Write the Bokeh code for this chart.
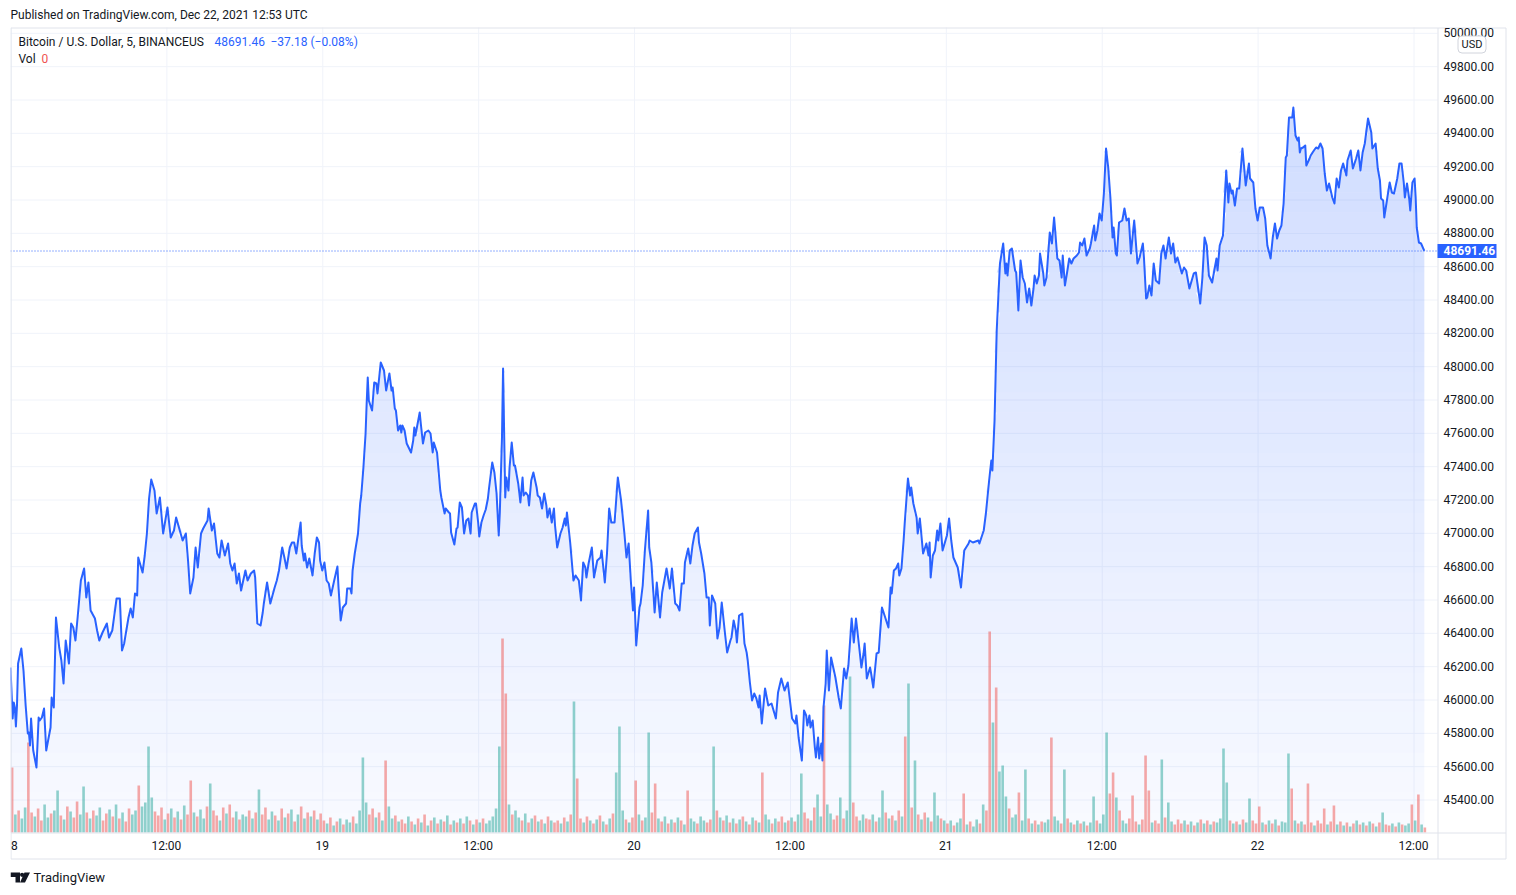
import numpy as np
from bokeh.plotting import figure
from bokeh.models import Range1d, Spacer
from bokeh.core.properties import value
from bokeh.layouts import row
from bokeh.embed import file_html
from bokeh.resources import INLINE

# ---------------- data ----------------
# 5-minute bar number counted from Dec 18 00:00 UTC
bar_index = [
    0, 2, 3, 4, 5, 6, 7, 10, 12, 14,
    16, 17, 18, 19, 21, 24, 26, 27, 29, 31,
    33, 37, 38, 40, 42, 45, 47, 49, 51, 54,
    56, 58, 60, 62, 65, 68, 70, 72, 74, 78,
    80, 82, 85, 89, 91, 94, 98, 101, 103, 105,
    109, 111, 113, 115, 117, 118, 122, 124, 126, 128,
    130, 133, 135, 138, 141, 145, 148, 151, 153, 159,
    162, 164, 166, 169, 171, 173, 176, 178, 182, 183,
    186, 188, 191, 193, 195, 198, 201, 203, 205, 207,
    209, 211, 213, 217, 219, 222, 225, 226, 228, 231,
    233, 234, 237, 240, 244, 246, 248, 251, 253, 255,
    258, 260, 262, 264, 268, 269, 271, 272, 274, 276,
    279, 281, 283, 285, 286, 288, 290, 292, 294, 296,
    299, 302, 303, 305, 307, 310, 311, 314, 315, 316,
    318, 321, 323, 324, 326, 328, 329, 330, 331, 334,
    336, 338, 339, 340, 342, 345, 347, 350, 352, 353,
    355, 356, 358, 360, 361, 362, 364, 366, 370, 372,
    373, 374, 378, 379, 381, 383, 386, 388, 390, 391,
    394, 397, 398, 401, 402, 405, 406, 407, 410, 412,
    413, 415, 417, 419, 421, 423, 425, 426, 429, 430,
    432, 433, 435, 437, 439, 441, 442, 445, 447, 449,
    451, 452, 454, 455, 457, 458, 460, 461, 463, 465,
    466, 469, 471, 473, 474, 476, 478, 479, 481, 483,
    486, 487, 489, 491, 493, 495, 496, 498, 500, 502,
    503, 505, 508, 510, 512, 513, 514, 517, 520, 522,
    525, 527, 529, 531, 532, 534, 537, 539, 542, 545,
    546, 549, 551, 553, 555, 558, 561, 564, 567, 569,
    571, 573, 575, 576, 578, 581, 582, 584, 586, 589,
    590, 592, 595, 597, 600, 602, 604, 606, 609, 611,
    614, 616, 618, 620, 622, 623, 626, 628, 630, 632,
    635, 636, 638, 641, 643, 645, 646, 648, 651, 653,
    655, 657, 660, 662, 665, 666, 668, 670, 671, 673,
    676, 678, 680, 681, 683, 685, 687, 689, 691, 692,
    694, 697, 700, 703, 707, 709, 712, 715, 718, 720,
    722, 725, 726, 728, 731, 733, 735, 736, 738, 739,
    741, 743, 744, 746, 747, 749, 750, 751, 753, 754,
    756, 758, 762, 765, 767, 770, 772, 774, 777, 779,
    781, 784, 786, 788, 789, 791, 794, 795, 797, 800,
    802, 805, 808, 811, 813, 814, 816, 818, 820, 821,
    823, 825, 826, 829, 831, 832, 834, 837, 838, 840,
    843, 846, 848, 849, 850, 852, 854, 856, 857, 859,
    861, 865, 867, 869, 871, 875, 878, 881, 885, 886,
    889, 894, 895, 899, 901, 904, 906, 907, 909, 911,
    914, 917, 919, 920, 921, 923, 925, 928, 929, 931,
    933, 935, 937, 939, 941, 943, 945, 946, 948, 950,
    951, 954, 955, 957, 960, 962, 964, 965, 967, 969,
    971, 972, 974, 976, 978, 980, 982, 985, 987, 988,
    990, 992, 994, 997, 998, 1001, 1002, 1004, 1006, 1008,
    1010, 1012, 1014, 1016, 1018, 1019, 1021, 1022, 1024, 1027,
    1029, 1031, 1033, 1035, 1038, 1041, 1043, 1046, 1047, 1049,
    1050, 1052, 1054, 1056, 1058, 1061, 1063, 1065, 1067, 1070,
    1072, 1074, 1076, 1078, 1082, 1084, 1086, 1089, 1093, 1095,
    1099, 1101, 1103, 1105, 1107, 1110, 1114, 1115, 1117, 1120,
    1123, 1125, 1126, 1128, 1129, 1131, 1133, 1135, 1138, 1139,
    1141, 1144, 1145, 1148, 1150, 1152, 1154, 1157, 1159, 1161,
    1164, 1166, 1168, 1170, 1172, 1174, 1176, 1178, 1179, 1181,
    1184, 1185, 1187, 1189, 1190, 1191, 1192, 1194, 1196, 1197,
    1200, 1201, 1204, 1206, 1208, 1210, 1212, 1214, 1216, 1218,
    1221, 1223, 1225, 1227, 1229, 1231, 1234, 1235, 1238, 1240,
    1243, 1245, 1247, 1249, 1251, 1254, 1257, 1258, 1261, 1263,
    1265, 1266, 1268, 1269, 1271, 1274, 1276, 1278, 1281, 1283,
    1285, 1287, 1288, 1290, 1292, 1293, 1295, 1297, 1298, 1299,
    1301, 1303, 1306,
]

close = [
    46192, 45886, 45982, 45952, 45838, 45964, 46216, 46306, 46174, 45964,
    45796, 45802, 45724, 45886, 45694, 45592, 45892, 45874, 45892, 45946,
    45694, 45832, 46012, 45952, 46492, 46312, 46234, 46096, 46354, 46216,
    46456, 46432, 46354, 46492, 46714, 46786, 46612, 46702, 46534, 46486,
    46414, 46354, 46402, 46456, 46372, 46414, 46606, 46606, 46294, 46336,
    46492, 46546, 46492, 46636, 46624, 46852, 46762, 46864, 46996, 47206,
    47320, 47254, 47116, 47212, 46996, 47152, 46972, 47014, 47092, 46954,
    46996, 46834, 46636, 46732, 46912, 46792, 46996, 47026, 47074, 47146,
    47014, 47056, 46876, 46852, 46954, 46864, 46936, 46816, 46774, 46816,
    46696, 46756, 46654, 46774, 46714, 46756, 46774, 46732, 46456, 46444,
    46522, 46576, 46702, 46576, 46672, 46714, 46774, 46912, 46852, 46786,
    46912, 46942, 46942, 46876, 47062, 46924, 46834, 46876, 46792, 46846,
    46744, 46876, 46972, 46942, 46834, 46774, 46822, 46714, 46696, 46624,
    46714, 46798, 46672, 46474, 46552, 46576, 46666, 46666, 46636, 46774,
    46876, 46996, 47176, 47224, 47392, 47596, 47776, 47932, 47794, 47734,
    47902, 47896, 47836, 47896, 48022, 47974, 47854, 47956, 47854, 47872,
    47746, 47734, 47614, 47644, 47602, 47644, 47614, 47536, 47482, 47554,
    47632, 47584, 47722, 47656, 47536, 47602, 47614, 47596, 47482, 47542,
    47482, 47254, 47212, 47116, 47146, 47122, 47116, 47002, 46930, 47026,
    47032, 47182, 47152, 46996, 47074, 47086, 46996, 47122, 47176, 47176,
    47062, 46978, 47062, 47104, 47140, 47206, 47266, 47422, 47362, 47236,
    46984, 47122, 47572, 47986, 47212, 47332, 47254, 47392, 47542, 47404,
    47404, 47296, 47182, 47332, 47224, 47242, 47224, 47164, 47314, 47362,
    47272, 47224, 47212, 47146, 47236, 47164, 47092, 47146, 47062, 47146,
    47044, 46912, 46996, 47032, 47086, 47044, 47122, 46942, 46714, 46744,
    46714, 46594, 46822, 46792, 46732, 46816, 46912, 46732, 46834, 46852,
    46894, 46702, 46876, 47146, 47062, 47062, 47332, 47194, 47002, 46852,
    46936, 46714, 46534, 46672, 46324, 46552, 46576, 46684, 46894, 47134,
    46912, 46822, 46522, 46702, 46492, 46642, 46714, 46786, 46666, 46786,
    46576, 46564, 46534, 46696, 46696, 46822, 46906, 46816, 46924, 46996,
    47032, 46942, 46876, 46756, 46612, 46612, 46444, 46624, 46576, 46366,
    46432, 46582, 46396, 46282, 46354, 46372, 46474, 46414, 46342, 46504,
    46516, 46336, 46282, 46234, 46102, 45994, 46036, 46006, 45952, 46024,
    45856, 46066, 45964, 45976, 45886, 46042, 46126, 46054, 46102, 45994,
    45886, 45856, 45904, 45772, 45634, 45934, 45904, 45844, 45904, 45832,
    45874, 45712, 45652, 45772, 45646, 45736, 45634, 45952, 46096, 46294,
    46054, 46252, 46132, 46012, 45946, 46186, 46126, 46204, 46486, 46342,
    46486, 46312, 46192, 46276, 46336, 46126, 46192, 46156, 46072, 46276,
    46282, 46552, 46492, 46432, 46672, 46636, 46774, 46786, 46816, 46744,
    46786, 46954, 47056, 47326, 47224, 47272, 47176, 47092, 46996, 47086,
    46876, 46936, 46864, 46942, 46732, 46864, 46894, 47014, 46954, 47056,
    46894, 46984, 47086, 46954, 46852, 46792, 46672, 46894, 46936, 46954,
    46942, 46954, 46936, 47014, 47116, 47314, 47434, 47374, 47674, 48214,
    48616, 48736, 48556, 48616, 48544, 48694, 48706, 48574, 48562, 48334,
    48634, 48532, 48496, 48382, 48466, 48364, 48466, 48544, 48496, 48544,
    48676, 48556, 48484, 48532, 48802, 48736, 48892, 48814, 48646, 48634,
    48532, 48664, 48484, 48562, 48646, 48616, 48646, 48664, 48682, 48742,
    48724, 48766, 48664, 48706, 48736, 48844, 48754, 48814, 48916, 48874,
    49036, 49306, 49192, 49012, 48772, 48832, 48676, 48664, 48862, 48874,
    48946, 48874, 48886, 48676, 48874, 48616, 48652, 48736, 48652, 48406,
    48412, 48484, 48424, 48616, 48514, 48496, 48676, 48724, 48646, 48772,
    48676, 48736, 48622, 48652, 48556, 48592, 48574, 48466, 48556, 48562,
    48376, 48532, 48772, 48724, 48544, 48502, 48646, 48574, 48724, 48784,
    49174, 48982, 49096, 49036, 49054, 48964, 49066, 49066, 49306, 49234,
    49084, 49216, 49126, 49102, 48946, 48874, 48952, 48952, 48886, 48724,
    48646, 48772, 48856, 48766, 48814, 48844, 48976, 49252, 49264, 49492,
    49492, 49552, 49384, 49354, 49372, 49282, 49306, 49312, 49324, 49204,
    49246, 49264, 49294, 49312, 49306, 49336, 49306, 49156, 49054, 49096,
    49012, 48976, 49126, 49072, 49174, 49216, 49144, 49234, 49294, 49186,
    49246, 49294, 49174, 49282, 49336, 49486, 49402, 49306, 49336, 49186,
    49114, 49006, 48994, 48892, 48976, 49102, 49042, 49036, 49126, 49216,
    49216, 49102, 49012, 49096, 49006, 48934, 49102, 49126, 49012, 48832,
    48742, 48736, 48691.46,
]

# volume, one column per 15 minutes (3 bars), arbitrary units
volume = [
    65, 18, 22, 14, 25, 90, 20, 16, 24, 12, 28, 15, 19, 22, 42, 17, 13, 26, 21, 15, 31, 18, 46, 20,
    14, 22, 17, 25, 12, 19, 23, 16, 28, 14, 20, 11, 24, 18, 22, 47, 26, 30, 86, 35, 21, 17, 25, 13,
    19, 24, 15, 21, 13, 27, 18, 52, 20, 16, 23, 14, 26, 49, 22, 17, 12, 25, 19, 28, 15, 21, 13, 18,
    16, 22, 14, 20, 43, 18, 25, 13, 21, 17, 12, 24, 15, 19, 23, 11, 18, 26, 14, 20, 16, 22, 13, 19,
    12, 9, 15, 7, 11, 14, 8, 13, 10, 16, 9, 22, 75, 30, 18, 24, 15, 20, 12, 72, 26, 14, 17, 11,
    13, 9, 16, 11, 8, 14, 10, 18, 7, 12, 15, 9, 13, 11, 17, 8, 12, 10, 14, 9, 16, 12, 8, 13,
    10, 14, 9, 12, 16, 24, 86, 194, 139, 28, 18, 22, 15, 12, 19, 10, 14, 17, 11, 13, 9, 16, 12, 10,
    12, 9, 15, 11, 18, 131, 54, 14, 10, 16, 12, 9, 13, 17, 11, 8, 14, 19, 60, 106, 22, 13, 10, 15,
    52, 18, 12, 15, 100, 20, 49, 14, 11, 16, 9, 13, 10, 15, 12, 8, 42, 14, 11, 9, 16, 12, 10, 13,
    86, 22, 15, 12, 17, 10, 14, 9, 13, 16, 11, 8, 15, 12, 10, 60, 18, 13, 9, 14, 11, 16, 10, 12,
    15, 11, 18, 59, 20, 14, 12, 25, 38, 16, 127, 28, 19, 13, 17, 35, 14, 22, 156, 30, 16, 12, 18, 14,
    13, 18, 11, 15, 42, 20, 14, 17, 12, 22, 16, 96, 149, 25, 72, 18, 13, 20, 15, 11, 40, 17, 14, 12,
    9, 12, 7, 10, 14, 39, 8, 11, 6, 13, 9, 28, 22, 201, 110, 145, 61, 67, 36, 24, 15, 18, 40, 12,
    63, 14, 9, 12, 8, 11, 10, 13, 95, 16, 12, 9, 63, 14, 10, 8, 12, 9, 11, 7, 10, 36, 12, 9,
    18, 100, 39, 60, 35, 22, 12, 9, 14, 37, 11, 8, 13, 77, 42, 10, 12, 9, 73, 15, 30, 11, 8, 13,
    9, 12, 8, 11, 7, 10, 13, 9, 12, 8, 11, 10, 14, 84, 50, 12, 9, 11, 8, 13, 10, 34, 12, 9,
    26, 10, 8, 12, 9, 13, 7, 11, 10, 79, 44, 12, 9, 11, 8, 49, 10, 7, 12, 9, 24, 8, 11, 27,
    8, 11, 7, 10, 6, 9, 12, 8, 10, 7, 11, 9, 6, 10, 20, 8, 7, 9, 6, 10, 8, 7, 9, 28,
    12, 38, 8, 5,
]
# u = up column (teal), d = down column (red)
vol_dir = (
    "duduuddudduuduudududduud"
    "uduuddudududduuduuuudddu"
    "dudududduduududdududdudu"
    "udududduudududududududud"
    "dudududuuduuuuddududuudu"
    "ddududududududududududud"
    "uduuuuudduduudududududud"
    "dudududdudududududuuudud"
    "duduuddudududududuuduud"
    "dududududududududuududdud"
    "uduudduduuduudduduudduud"
    "duduududududududududuudu"
    "duduududuududduduuuduudu"
    "udududuuduudududududuudu"
    "uudduduudddudddudduduudd"
    "dudududududuuuudududuudd"
    "dudududuuudududddudddudd"
    "ududududududududdududuud"
    "udud"
)

# time-axis ticks (hours after Dec 18 00:00); the first label is cut to "8" at the pane edge
day_ticks = [0, 12, 24, 36, 48, 60, 72, 84, 96, 108]
tick_labels = ["8", "12:00", "19", "12:00", "20", "12:00", "21", "12:00", "22", "12:00"]
price_ticks = list(range(45400, 50001, 200))
last_price = 48691.46
change_text = "\u221237.18 (\u22120.08%)"

# ---------------- geometry of the TradingView panel ----------------
BLUE = "#2962FF"
TXT = "#131722"
BORDER = "#E0E3EB"
GRID = "#F0F3FA"
FONT = value("Roboto")

PXH = 1403.0 / 108.0          # pixels per hour
PPY = 6.0                     # price units per pixel
PRICE_AT_TOP = 50194.0        # price at page y = 0


def X(px):   # page x pixel -> hours
    return (px - 10.0) / PXH


def Y(py):   # page y pixel -> price
    return PRICE_AT_TOP - PPY * py


PLOT_R, PLOT_T, PLOT_B = X(1437), Y(27), Y(832)

n = min(len(bar_index), len(close))
t = np.array(bar_index[:n], dtype=float) * 5.0 / 60.0
pr = np.array(close[:n], dtype=float)

p = figure(width=1506, height=895, x_range=Range1d(X(10), X(1516)), y_range=Range1d(Y(895), Y(0)),
           x_axis_location=None, y_axis_location=None, title=None,
           toolbar_location=None, tools="", output_backend="svg",
           min_border=0, background_fill_color="white", border_fill_color="white",
           outline_line_color=None)
p.xgrid.visible = False
p.ygrid.visible = False

# grid lines (pane only)
p.segment(x0=0, x1=PLOT_R, y0=[v - PPY / 2 for v in price_ticks], y1=[v - PPY / 2 for v in price_ticks],
          line_color=GRID, line_width=1)
p.segment(x0=[d + 0.5 / PXH for d in day_ticks], x1=[d + 0.5 / PXH for d in day_ticks],
          y0=PLOT_B, y1=PLOT_T, line_color=GRID, line_width=1)

# gradient area under the line (horizontal bands, 20 px each)
step = 20 * PPY
pmax = pr.max()
nb = int(np.ceil((pmax - PLOT_B) / step))
for i in range(nb):
    a = PLOT_B + i * step
    b = a + step
    mid = min(a + step / 2, pmax)
    frac = (mid - PLOT_B) / (pmax - PLOT_B)
    alpha = 0.03 + 0.19 * frac
    p.varea(x=t, y1=a, y2=np.clip(pr, a, b), fill_color=BLUE, fill_alpha=alpha)

# volume (own scale: 1 unit = 1 px, zero at the pane bottom)
p.extra_y_ranges = {"vol": Range1d(-63, 832)}
nv = min(len(volume), len(vol_dir))
vx = (3 * np.arange(nv) + 1.5) * 5.0 / 60.0
vcol = ["#26A69A" if c == "u" else "#EF5350" for c in vol_dir[:nv]]
p.vbar(x=vx, top=volume[:nv], bottom=0, width=0.25 * 0.8, fill_color=vcol, fill_alpha=0.5,
       line_color=None, y_range_name="vol")

# price line
p.line(t, pr, line_color=BLUE, line_width=2, line_join="round")

# last price dotted line (snapped to a pixel row)
py_last = (PRICE_AT_TOP - last_price) / PPY
y_dot = Y(np.floor(py_last) + 0.5)
p.segment(x0=0, x1=PLOT_R, y0=y_dot, y1=y_dot, line_color=BLUE, line_dash="1 2", line_width=1)

# panel borders and separators
p.segment(x0=[X(10.5), X(1505.5), X(10.5), X(10.5), X(1437.5), X(10.5)],
          x1=[X(1505.5), X(1505.5), X(1505.5), X(10.5), X(1437.5), X(1505.5)],
          y0=[Y(27.5), Y(27.5), Y(858.5), Y(27.5), Y(27.5), Y(832.5)],
          y1=[Y(27.5), Y(858.5), Y(858.5), Y(858.5), Y(858.5), Y(832.5)],
          line_color=BORDER, line_width=1)

# time axis labels (first one sits at the pane's left edge)
p.text(x=[X(10.5)], y=[Y(845)], text=tick_labels[:1], text_font=FONT,
       text_font_size="12px", text_color=TXT, text_align="left", text_baseline="middle")
p.text(x=day_ticks[1:], y=[Y(845)] * (len(day_ticks) - 1), text=tick_labels[1:], text_font=FONT,
       text_font_size="12px", text_color=TXT, text_align="center", text_baseline="middle")

# price axis labels
p.text(x=[X(1443)] * len(price_ticks), y=price_ticks, text=[f"{v:.2f}" for v in price_ticks],
       text_font=FONT, text_font_size="12px", text_color=TXT, text_align="left",
       text_baseline="middle")

# last price tag
p.quad(left=X(1437), right=X(1496), top=last_price + 7 * PPY, bottom=last_price - 7 * PPY,
       fill_color=BLUE, line_color=None)
p.text(x=[X(1443)], y=[last_price], text=[f"{last_price:.2f}"], text_font=FONT,
       text_font_size="12px", text_font_style="bold", text_color="white", text_align="left",
       text_baseline="middle")

# USD badge
p.quad(left=X(1457.5), right=X(1485.5), top=Y(35.5), bottom=Y(52.5), fill_color="white",
       line_color="#D1D4DC", line_width=1, border_radius=4)
p.text(x=[X(1471.5)], y=[Y(44)], text=["USD"], text_font=FONT, text_font_size="11px",
       text_color=TXT, text_align="center", text_baseline="middle")


# header and legend texts
def lab(px, py, text, color=TXT, size="12px"):
    p.text(x=[X(px)], y=[Y(py)], text=[text], text_font=FONT, text_font_size=size,
           text_color=color, text_align="left", text_baseline="middle")


lab(10, 14, "Published on TradingView.com, Dec 22, 2021 12:53 UTC")
lab(18, 41, "Bitcoin / U.S. Dollar, 5, BINANCEUS")
lab(214, 41, f"{last_price:.2f}", color=BLUE)
lab(270, 41, change_text, color=BLUE)
lab(18, 58, "Vol")
lab(41, 58, "0", color="#EF5350")
lab(33, 877, "TradingView", size="13px")

# TradingView logo mark
p.patch(x=[X(v) for v in (10, 19.5, 19.5, 15, 15, 10)],
        y=[Y(v) for v in (872, 872, 882, 882, 876.5, 876.5)], fill_color=TXT, line_color=None)
p.patch(x=[X(v) for v in (24, 29.5, 24.5, 19.5)], y=[Y(v) for v in (872, 872, 882, 882)],
        fill_color=TXT, line_color=None)
p.scatter(x=[X(21.6)], y=[Y(874.3)], marker="circle", size=4.2, fill_color=TXT, line_color=None)

layout = row(Spacer(width=10, height=895), p)
open("out.html", "w").write(file_html(layout, INLINE))
